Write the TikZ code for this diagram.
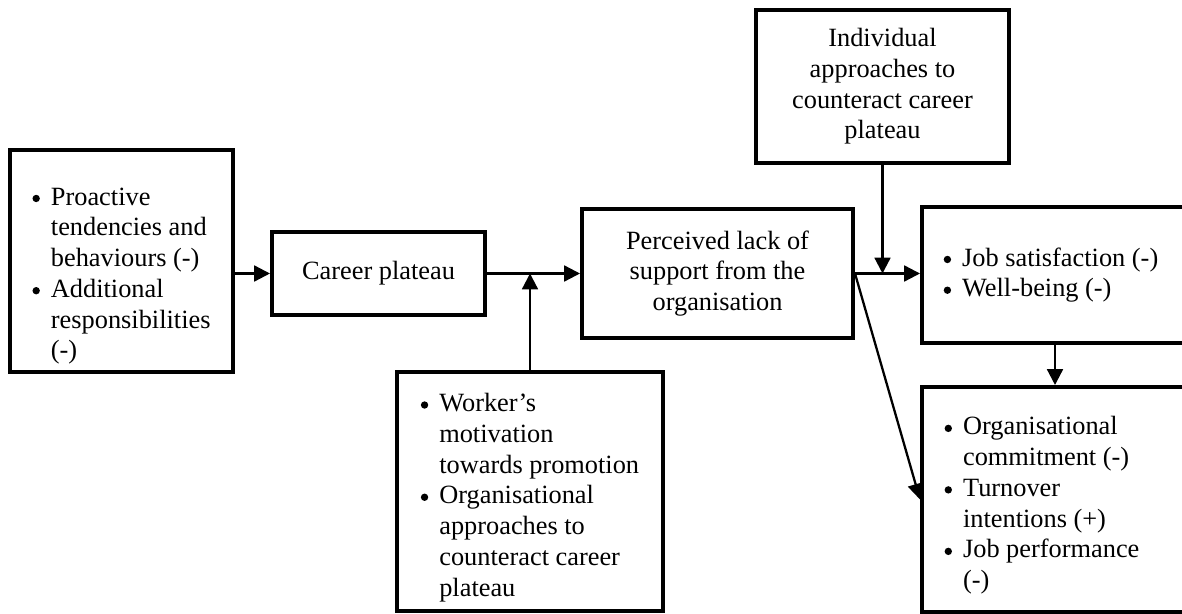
\documentclass[tikz,border=0pt]{standalone}
\usepackage{fontspec}
\setmainfont{Liberation Serif}
\usetikzlibrary{arrows.meta,positioning}
\newcommand{\bulletmark}{\makebox[10.5pt][l]{\tikz[baseline=0pt]\fill (0.14em,0.25em) circle (0.14em);}}
\newcommand{\bulletpad}{\hspace*{10.5pt}}

\begin{document}
\begin{tikzpicture}[
  x=0.02cm,
  y=-0.02cm,
  every node/.style={font=\fontsize{15}{17.5}\selectfont},
  box/.style={draw=black, line width=2.3pt, inner sep=0pt, align=center},
  listtext/.style={inner sep=0pt, align=left},
  flow/.style={-{Triangle[length=9pt,width=9pt]}, line width=1.3pt}
]
\useasboundingbox (0,0) rectangle (1182,614);
\clip (0,0) rectangle (1182,614);

\node[box, minimum width=4.46cm, minimum height=4.44cm] (prox) at (121.5,261) {};
\node[listtext, yshift=-0.3cm] (prox-text) at (prox.center) {\bulletmark Proactive\\\bulletpad tendencies and\\\bulletpad behaviours (-)\\\bulletmark Additional\\\bulletpad responsibilities\\\bulletpad (-)};
\node[box, minimum width=4.26cm, minimum height=1.66cm] (plateau) at (378.5,273.5) {Career plateau};
\node[box, minimum width=5.42cm, minimum height=2.58cm] (support) at (717.5,273.5) {Perceived lack of\\support from the\\organisation};
\node[box, minimum width=5.06cm, minimum height=3.06cm] (indiv) at (882.5,86.5) {Individual\\approaches to\\counteract career\\plateau};
\node[box, minimum width=5.32cm, minimum height=4.78cm] (worker) at (530,491.5) {};
\node[listtext, yshift=-0.12cm] (worker-text) at (worker.center) {\bulletmark Worker’s\\\bulletpad motivation\\\bulletpad towards promotion\\\bulletmark Organisational\\\bulletpad approaches to\\\bulletpad counteract career\\\bulletpad plateau};
\node[box, minimum width=5.32cm, minimum height=2.72cm] (jobsat) at (1055,275) {};
\node[listtext, xshift=-0.08cm] (jobsat-text) at (jobsat.center) {\bulletmark Job satisfaction (-)\\\bulletmark Well-being (-)};
\node[box, minimum width=5.32cm, minimum height=4.5cm] (outcomes) at (1055,499.5) {};
\node[listtext, xshift=-0.26cm, yshift=-0.12cm] (outcomes-text) at (outcomes.center) {\bulletmark Organisational\\\bulletpad commitment (-)\\\bulletmark Turnover\\\bulletpad intentions (+)\\\bulletmark Job performance\\\bulletpad (-)};

\draw[flow] (plateau.west -| prox.east) -- (plateau.west);
\draw[flow] (plateau.east) -- (support.west);
\draw[flow] (worker.north) -- (worker.north |- plateau.east);
\draw[flow] (support.east) -- (support.east -| jobsat.west);
\draw[flow] (indiv.south) -- (indiv.south |- support.east);
\draw[flow] (jobsat.south) -- (outcomes.north);
\draw[flow] (support.east) -- (outcomes.west);
\end{tikzpicture}
\end{document}
